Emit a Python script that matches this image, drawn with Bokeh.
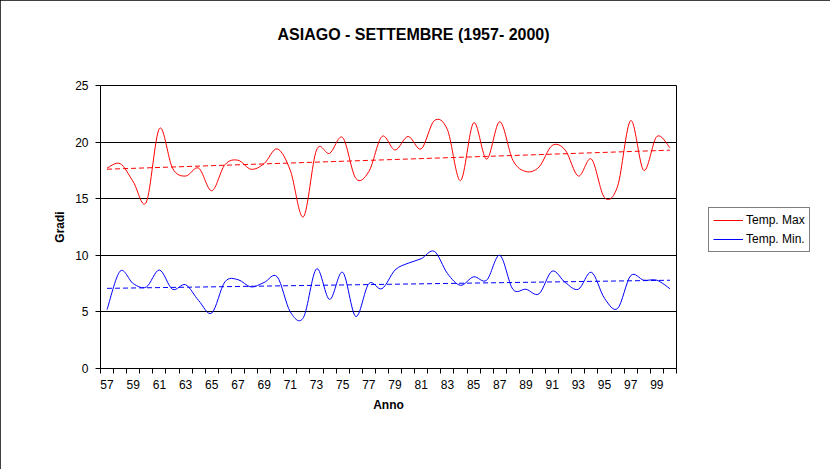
import numpy as np
from bokeh.plotting import figure
from bokeh.models import FixedTicker, Legend, LegendItem, Range1d, ColumnDataSource
from bokeh.embed import file_html
from bokeh.resources import INLINE

# ---- data ----
years = list(range(57, 101))
tick_labels = [str(y) for y in range(57, 100, 2)]
temp_max = [17.7, 18.1, 16.5, 14.7, 21.2, 17.7, 17.0, 17.7, 15.7, 18.0,
            18.4, 17.6, 18.1, 19.4, 17.5, 13.4, 19.3, 19.0, 20.4, 16.8,
            17.4, 20.5, 19.3, 20.5, 19.4, 21.9, 21.1, 16.6, 21.7, 18.5,
            21.8, 18.4, 17.4, 17.8, 19.7, 19.3, 17.0, 18.5, 15.1, 16.1,
            21.9, 17.5, 20.5, 19.5]
temp_min = [5.2, 8.6, 7.5, 7.2, 8.7, 7.0, 7.4, 6.0, 4.9, 7.65,
            7.85, 7.2, 7.6, 8.1, 5.0, 4.5, 8.8, 6.1, 8.5, 4.6,
            7.5, 7.05, 8.7, 9.3, 9.7, 10.35, 8.4, 7.35, 8.1, 7.8,
            10.0, 7.0, 7.0, 6.6, 8.6, 7.6, 7.0, 8.5, 6.2, 5.3,
            8.2, 7.8, 7.8, 7.05]
y_ticks = [0, 5, 10, 15, 20, 25]

FONT = "Liberation Sans"

p = figure(frame_width=576, frame_height=283, output_backend="svg", toolbar_location=None,
           x_range=Range1d(56.5, 100.5), y_range=Range1d(0, 25),
           min_border_left=100, min_border_right=154,
           min_border_top=85, min_border_bottom=101)
p.styles = {"outline": "1px solid black", "outline-offset": "-1px"}

p.background_fill_color = "white"
p.border_fill_color = "white"
p.outline_line_color = "black"
p.outline_line_width = 1

# title (trailing empty lines lift it up within the top margin)
p.title.text = "ASIAGO - SETTEMBRE (1957- 2000)\n\n"
p.title.align = "left"
p.title.vertical_align = "top"
p.title.text_font = FONT
p.title.text_font_size = "16px"
p.title.text_font_style = "bold"
p.title.text_color = "black"
p.title.text_line_height = 1.2
p.title.standoff = 0
p.title.offset = 177

# grids
p.xgrid.visible = False
p.ygrid.ticker = FixedTicker(ticks=y_ticks)
p.ygrid.grid_line_color = "black"
p.ygrid.grid_line_width = 1

# axes
xa = p.xaxis[0]
xa.ticker = FixedTicker(ticks=[int(t) for t in tick_labels],
                        minor_ticks=[y - 0.5 for y in years] + [years[-1] + 0.5])
xa.major_tick_out = 0
xa.major_tick_in = 0
xa.minor_tick_out = 5
xa.minor_tick_in = 0
xa.minor_tick_line_color = "black"
xa.axis_line_color = "black"
xa.major_label_standoff = 6
xa.major_label_text_font = FONT
xa.major_label_text_font_size = "12px"
xa.major_label_text_color = "black"
xa.axis_label = "Anno"
xa.axis_label_text_font = FONT
xa.axis_label_text_font_size = "12px"
xa.axis_label_text_font_style = "bold"
xa.axis_label_text_color = "black"
xa.axis_label_standoff = 6

ya = p.yaxis[0]
ya.ticker = FixedTicker(ticks=y_ticks)
ya.major_tick_out = 5
ya.major_tick_in = 0
ya.minor_tick_out = 0
ya.minor_tick_in = 0
ya.major_tick_line_color = "black"
ya.axis_line_color = "black"
ya.major_label_standoff = 7
ya.major_label_text_font = FONT
ya.major_label_text_font_size = "12px"
ya.major_label_text_color = "black"
ya.axis_label = "Gradi"
ya.axis_label_text_font = FONT
ya.axis_label_text_font_size = "12px"
ya.axis_label_text_font_style = "bold"
ya.axis_label_text_color = "black"
ya.axis_label_standoff = 5


def smooth_source(xv, yv):
    x = np.asarray(xv, float)
    y = np.asarray(yv, float)
    n = len(x)
    i = np.arange(n - 1)
    im1 = np.maximum(i - 1, 0)
    ip2 = np.minimum(i + 2, n - 1)
    return ColumnDataSource(dict(
        x0=x[i], y0=y[i], x1=x[i + 1], y1=y[i + 1],
        cx0=x[i] + (x[i + 1] - x[im1]) / 6, cy0=y[i] + (y[i + 1] - y[im1]) / 6,
        cx1=x[i + 1] - (x[ip2] - x[i]) / 6, cy1=y[i + 1] - (y[ip2] - y[i]) / 6,
    ))


legend_renderers = []
for series, color in ((temp_max, "#FF0000"), (temp_min, "#0000FF")):
    src = smooth_source(years, series)
    p.bezier(x0="x0", y0="y0", x1="x1", y1="y1", cx0="cx0", cy0="cy0",
             cx1="cx1", cy1="cy1", source=src, line_color=color, line_width=1)
    # single-point proxy (draws nothing on the plot) for the legend swatch
    legend_renderers.append(p.line(x=years[:1], y=series[:1],
                                   line_color=color, line_width=1))
    coef = np.polyfit(years, series, 1)
    trend = [coef[0] * years[0] + coef[1], coef[0] * years[-1] + coef[1]]
    p.line([years[0], years[-1]], trend, line_color=color, line_width=1,
           line_dash="5 3")

legend = Legend(items=[LegendItem(label="Temp. Max", renderers=[legend_renderers[0]]),
                       LegendItem(label="Temp. Min.", renderers=[legend_renderers[1]])],
                location=(32, 116))
legend.label_text_font = FONT
legend.label_text_font_size = "12px"
legend.label_text_color = "black"
legend.border_line_color = "black"
legend.border_line_width = 1
legend.background_fill_color = "white"
legend.background_fill_alpha = 1
legend.padding = 4
legend.spacing = 3
legend.margin = 0
legend.glyph_width = 30
legend.glyph_height = 16
legend.label_height = 16
legend.label_standoff = 3
p.add_layout(legend, "right")

open("out.html", "w").write(file_html(p, INLINE))
